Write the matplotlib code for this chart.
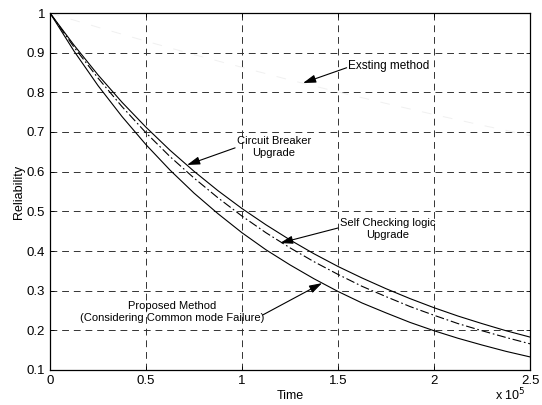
import matplotlib
matplotlib.use("Agg")
import matplotlib.pyplot as plt

plt.rcParams['font.family'] = ['Liberation Sans', 'DejaVu Sans']

# Time in units of 1e5
t = [0, 0.125, 0.25, 0.375, 0.5, 0.625, 0.75, 0.875, 1.0, 1.125, 1.25,
     1.375, 1.5, 1.625, 1.75, 1.875, 2.0, 2.125, 2.25, 2.375, 2.5]

circuit_breaker = [1, 0.919, 0.844, 0.775, 0.712, 0.654, 0.601, 0.552, 0.507, 0.466, 0.428,
                   0.393, 0.361, 0.332, 0.305, 0.280, 0.257, 0.236, 0.217, 0.199, 0.183]
self_checking = [1, 0.914, 0.836, 0.764, 0.698, 0.638, 0.584, 0.534, 0.488, 0.446, 0.408,
                 0.373, 0.341, 0.311, 0.285, 0.260, 0.238, 0.217, 0.199, 0.182, 0.166]
proposed = [1, 0.904, 0.817, 0.739, 0.668, 0.604, 0.546, 0.494, 0.446, 0.403, 0.365,
            0.330, 0.298, 0.269, 0.244, 0.220, 0.199, 0.180, 0.163, 0.147, 0.133]

t_exist = [0, 0.25, 0.5, 0.75, 1.0, 1.25, 1.5, 1.75, 2.0, 2.25, 2.5]
existing = [1, 0.964, 0.929, 0.895, 0.863, 0.831, 0.801, 0.772, 0.744, 0.717, 0.691]

xticks = [0, 0.5, 1, 1.5, 2, 2.5]
xticklabels = ['0', '0.5', '1', '1.5', '2', '2.5']
yticks = [0.1, 0.2, 0.3, 0.4, 0.5, 0.6, 0.7, 0.8, 0.9, 1.0]
yticklabels = ['0.1', '0.2', '0.3', '0.4', '0.5', '0.6', '0.7', '0.8', '0.9', '1']

fig = plt.figure(figsize=(5.42, 4.05), dpi=100)
ax = fig.add_axes([50/542, 35/405, 480/542, 357/405])

ax.plot(t_exist, existing, color='#f0f0f0', lw=0.7, ls=(0, (10, 12)))
ax.plot(t, circuit_breaker, color='black', lw=0.8, ls='-')
ax.plot(t, self_checking, color='black', lw=0.8, ls=(0, (8, 2.5, 1.5, 2.5)))
ax.plot(t, proposed, color='black', lw=0.8, ls='-')

ax.set_xlim(0, 2.5)
ax.set_ylim(0.1, 1.0)
ax.set_xticks(xticks)
ax.set_xticklabels(xticklabels)
ax.set_yticks(yticks)
ax.set_yticklabels(yticklabels)
ax.tick_params(direction='in', length=3, width=0.6, top=True, right=True,
               labelsize=9.5, colors='black')
ax.grid(True, color='#333333', lw=0.7, ls=(0, (7, 5)))
for s in ax.spines.values():
    s.set_linewidth(0.9)
    s.set_color('black')

ax.set_xlabel('Time', fontsize=9, labelpad=2)
ax.set_ylabel('Reliability', fontsize=9, labelpad=1)
fig.text(510/542, 10/405, r'x 10$^5$', fontsize=9, ha='center', va='center')

aprops = dict(arrowstyle='-|>,head_length=0.7,head_width=0.22', color='black',
              lw=0.8, mutation_scale=11, shrinkA=0, shrinkB=0)

ax.text(1.552, 0.866, 'Exsting method', fontsize=8.5, ha='left', va='center')
ax.annotate('', xy=(1.318, 0.8235), xytext=(1.545, 0.862), arrowprops=aprops)

ax.text(1.167, 0.662, 'Circuit Breaker\nUpgrade', fontsize=8, ha='center', va='center',
        linespacing=1.2)
ax.annotate('', xy=(0.714, 0.617), xytext=(0.964, 0.660), arrowprops=aprops)

ax.text(1.76, 0.4555, 'Self Checking logic\nUpgrade', fontsize=8, ha='center',
        va='center', linespacing=1.2)
ax.annotate('', xy=(1.198, 0.420), xytext=(1.50, 0.458), arrowprops=aprops)

ax.text(0.635, 0.246, 'Proposed Method\n(Considering Common mode Failure)', fontsize=8,
        ha='center', va='center', linespacing=1.2)
ax.annotate('', xy=(1.417, 0.319), xytext=(1.109, 0.239), arrowprops=aprops)

fig.savefig('out.png', dpi=100)
